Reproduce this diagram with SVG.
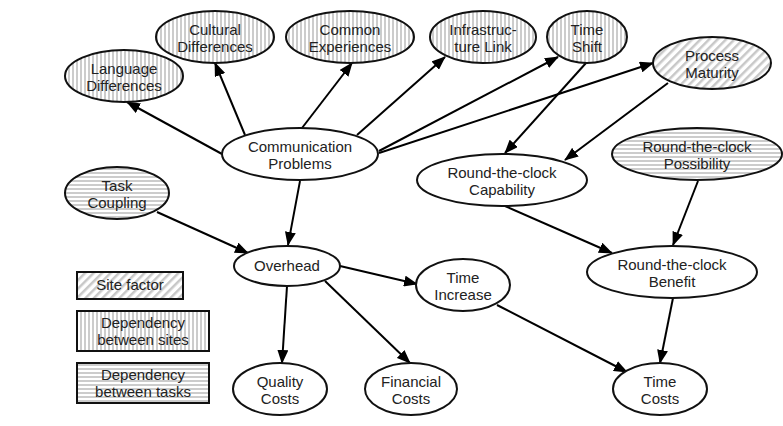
<svg xmlns="http://www.w3.org/2000/svg" width="783" height="426" viewBox="0 0 783 426">
<defs>
<pattern id="vert" patternUnits="userSpaceOnUse" width="4" height="4">
<rect width="4" height="4" fill="#ffffff"/>
<rect x="0" y="0" width="2" height="4" fill="#cccccc"/>
</pattern>
<pattern id="horiz" patternUnits="userSpaceOnUse" width="4" height="4">
<rect width="4" height="4" fill="#ffffff"/>
<rect x="0" y="0" width="4" height="2" fill="#cccccc"/>
</pattern>
<pattern id="diag" patternUnits="userSpaceOnUse" width="6" height="6" patternTransform="rotate(45)">
<rect width="6" height="6" fill="#ffffff"/>
<rect x="0" y="0" width="2.5" height="6" fill="#c8c8c8"/>
</pattern>
<marker id="arr" markerUnits="userSpaceOnUse" markerWidth="15" markerHeight="11" refX="13" refY="5.5" orient="auto">
<path d="M0,0 L14,5.5 L0,11 z" fill="#000"/>
</marker>
</defs>
<style>
.n{stroke:#111;stroke-width:2}
.w{fill:#fff}
.v{fill:url(#vert)}
.h{fill:url(#horiz)}
.d{fill:url(#diag)}
text{font-family:"Liberation Sans",Arial,sans-serif;font-size:15px;fill:#222;text-anchor:middle}
.e line{stroke:#000;stroke-width:2;marker-end:url(#arr)}
</style>
<rect width="783" height="426" fill="#fff"/>
<g class="e" id="connectors">
<line x1="222" y1="154" x2="127" y2="102"/>
<line x1="245" y1="135" x2="215" y2="63"/>
<line x1="302" y1="128" x2="352" y2="63"/>
<line x1="357" y1="135" x2="445" y2="57"/>
<line x1="379" y1="151" x2="558" y2="57"/>
<line x1="379" y1="153" x2="653" y2="63"/>
<line x1="586" y1="63" x2="505" y2="153"/>
<line x1="668" y1="83" x2="565" y2="160"/>
<line x1="698" y1="181" x2="673" y2="245"/>
<line x1="505" y1="206" x2="612" y2="253"/>
<line x1="300" y1="181" x2="288" y2="245"/>
<line x1="157" y1="212" x2="248" y2="253"/>
<line x1="340" y1="266" x2="417" y2="284"/>
<line x1="287" y1="286" x2="282" y2="363"/>
<line x1="325" y1="281" x2="410" y2="363"/>
<line x1="497" y1="305" x2="627" y2="372"/>
<line x1="673" y1="298" x2="660" y2="363"/>
</g>
<g id="lang"><ellipse class="n v" cx="124" cy="76" rx="59" ry="26"/><text x="124" y="74">Language</text><text x="124" y="91">Differences</text></g>
<g id="cult"><ellipse class="n v" cx="215" cy="37" rx="59" ry="26"/><text x="215" y="35">Cultural</text><text x="215" y="52">Differences</text></g>
<g id="common"><ellipse class="n v" cx="350" cy="37" rx="64" ry="26"/><text x="350" y="35">Common</text><text x="350" y="52">Experiences</text></g>
<g id="infra"><ellipse class="n v" cx="483" cy="37" rx="53" ry="26"/><text x="483" y="35">Infrastruc-</text><text x="483" y="52">ture Link</text></g>
<g id="timeshift"><ellipse class="n v" cx="587" cy="37" rx="40" ry="26"/><text x="587" y="35">Time</text><text x="587" y="52">Shift</text></g>
<g id="procmat"><ellipse class="n d" cx="712" cy="63" rx="59" ry="26"/><text x="712" y="61">Process</text><text x="712" y="78">Maturity</text></g>
<g id="comm"><ellipse class="n w" cx="300" cy="154" rx="78" ry="26"/><text x="300" y="152">Communication</text><text x="300" y="169">Problems</text></g>
<g id="poss"><ellipse class="n h" cx="697" cy="154" rx="85" ry="26"/><text x="697" y="152">Round-the-clock</text><text x="697" y="169">Possibility</text></g>
<g id="capab"><ellipse class="n w" cx="502" cy="180" rx="85" ry="26"/><text x="502" y="178">Round-the-clock</text><text x="502" y="195">Capability</text></g>
<g id="task"><ellipse class="n h" cx="117" cy="193" rx="52" ry="26"/><text x="117" y="191">Task</text><text x="117" y="208">Coupling</text></g>
<g id="overhead"><ellipse class="n w" cx="287" cy="266" rx="53" ry="20"/><text x="287" y="271">Overhead</text></g>
<g id="timeinc"><ellipse class="n w" cx="463" cy="285" rx="47" ry="26"/><text x="463" y="283">Time</text><text x="463" y="300">Increase</text></g>
<g id="benefit"><ellipse class="n w" cx="672" cy="272" rx="85" ry="26"/><text x="672" y="270">Round-the-clock</text><text x="672" y="287">Benefit</text></g>
<g id="quality"><ellipse class="n w" cx="280" cy="389" rx="47" ry="26"/><text x="280" y="387">Quality</text><text x="280" y="404">Costs</text></g>
<g id="financial"><ellipse class="n w" cx="411" cy="389" rx="46" ry="26"/><text x="411" y="387">Financial</text><text x="411" y="404">Costs</text></g>
<g id="timecosts"><ellipse class="n w" cx="660" cy="389" rx="47" ry="26"/><text x="660" y="387">Time</text><text x="660" y="404">Costs</text></g>
<g id="legend-site"><rect class="n d" x="77" y="272" width="106" height="27"/><text x="130" y="290">Site factor</text></g>
<g id="legend-sites"><rect class="n v" x="77" y="311" width="132" height="40"/><text x="143" y="328">Dependency</text><text x="143" y="345">between sites</text></g>
<g id="legend-tasks"><rect class="n h" x="77" y="363" width="132" height="40"/><text x="143" y="380">Dependency</text><text x="143" y="397">between tasks</text></g>
</svg>
